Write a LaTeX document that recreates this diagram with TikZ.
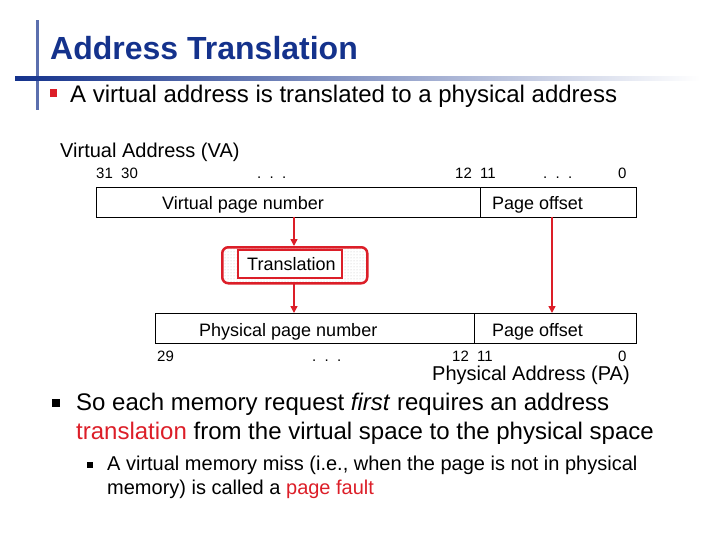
\documentclass[tikz,border=0pt]{standalone}
\usepackage{fontspec}
\setmainfont{Liberation Sans}
\usetikzlibrary{arrows.meta,patterns}
\definecolor{tblue}{RGB}{20,50,140}
\definecolor{tred}{RGB}{220,30,40}
\begin{document}
\begin{tikzpicture}[x=1pt,y=-1pt,
 lbl/.style={inner sep=0pt,anchor=base west,font=\fontsize{18}{20}\selectfont},
 num/.style={inner sep=0pt,anchor=base west,font=\fontsize{15}{17}\selectfont},
 fld/.style={draw,line width=1.3pt,inner sep=0pt},
 arr/.style={draw=tred,line width=1.5pt,-{Triangle[length=7pt,width=7pt]}}]
\useasboundingbox (0,0) rectangle (720,540);
\fill[tblue!70] (36,20) rectangle (39,110);
\shade[left color=tblue,right color=white] (15,77) rectangle (700,81);
\node[inner sep=0pt,anchor=base west,text=tblue,font=\bfseries\fontsize{32}{34}\selectfont] (title) at (50,60) {Address Translation};
\fill[tred] (50,89) rectangle (57,97);
\node[inner sep=0pt,anchor=base west,font=\fontsize{24}{26}\selectfont] (b1) at (70,103) {A virtual address is translated to a physical address};
\node[lbl,font=\fontsize{20}{22}\selectfont] (va) at (60,158) {Virtual Address (VA)};
\node[num] (n1) at (96,179) {31\ \ 30};
\node[num] (n2) at (257,179) {.\ \ .\ \ .};
\node[num] (n3) at (455,179) {12\ \ 11};
\node[num] (n4) at (543,179) {.\ \ .\ \ .};
\node[num] (n5) at (618,179) {0};
\node[fld,minimum width=384pt,minimum height=30pt,anchor=north west] (vpn) at (96,187) {};
\node[fld,minimum width=156pt,minimum height=30pt,anchor=north west] (vpo) at (480,187) {};
\node[lbl] at (162,210) {Virtual page number};
\node[lbl] at (492,210) {Page offset};
\node[draw=tred,line width=2.5pt,rounded corners=6pt,minimum width=145pt,minimum height=36pt,anchor=north west,pattern=dots,pattern color=gray!50] (tr) at (221,246) {};
\node[draw=tred,line width=1.2pt,minimum width=104pt,minimum height=28pt,fill=white] (tri) at (290,264) {};
\node[lbl] at (247,270) {Translation};
\node[fld,minimum width=319pt,minimum height=30pt,anchor=north west] (ppn) at (155,313) {};
\node[fld,minimum width=162pt,minimum height=30pt,anchor=north west] (ppo) at (474,313) {};
\node[lbl] at (199,336) {Physical page number};
\node[lbl] at (492,336) {Page offset};
\coordinate (a1) at (294,217); \coordinate (a2) at (294,246);
\coordinate (a3) at (294,283); \coordinate (a4) at (294,313);
\coordinate (a5) at (552,217); \coordinate (a6) at (552,313);
\draw[arr] (a1) -- (a2); \draw[arr] (a3) -- (a4); \draw[arr] (a5) -- (a6);
\node[num] at (157,361) {29};
\node[num] at (312,361) {.\ \ .\ \ .};
\node[num] at (452,361) {12\ \ 11};
\node[num] at (618,361) {0};
\node[lbl,font=\fontsize{20}{22}\selectfont] (pa) at (432,380) {Physical Address (PA)};
\fill (52,399) rectangle (60,407);
\node[inner sep=0pt,anchor=base west,font=\fontsize{24}{26}\selectfont] (b2) at (76,410) {So each memory request \emph{first} requires an address};
\node[inner sep=0pt,anchor=base west,font=\fontsize{24}{26}\selectfont] (b2b) at (76,439) {\textcolor{tred}{translation} from the virtual space to the physical space};
\fill (87,462) rectangle (93,468);
\node[inner sep=0pt,anchor=base west,font=\fontsize{20}{22}\selectfont] (b3) at (107,470) {A virtual memory miss (i.e., when the page is not in physical};
\node[inner sep=0pt,anchor=base west,font=\fontsize{20}{22}\selectfont] (b3b) at (107,494) {memory) is called a \textcolor{tred}{page fault}};
\end{tikzpicture}
\end{document}
